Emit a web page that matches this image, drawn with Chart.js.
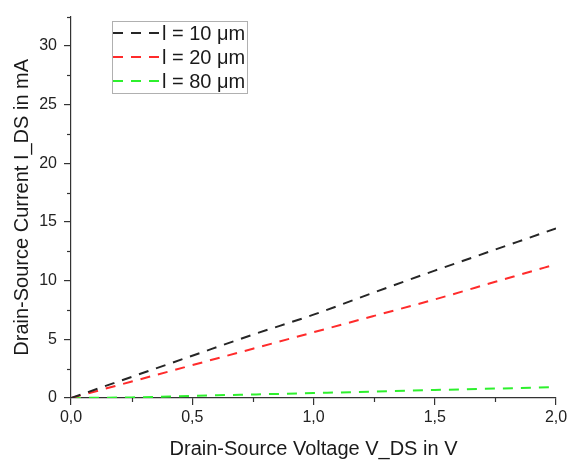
<!DOCTYPE html>
<html>
<head>
<meta charset="utf-8">
<script src="https://cdn.jsdelivr.net/npm/chart.js@4/dist/chart.umd.min.js"></script>
<style>
  html, body { margin: 0; padding: 0; background: #fff; }
  #wrap { width: 574px; height: 462px; }
</style>
</head>
<body>
<div id="wrap"><canvas id="chartIV" width="574" height="462"></canvas></div>
<script>
// === Datos ===
const vds = [0, 0.25, 0.5, 0.75, 1.0, 1.25, 1.5, 1.75, 2.0];
const idsL10 = [0, 1.8, 3.6, 5.4, 7.1, 9.0, 10.85, 12.65, 14.45];
const idsL20 = [0, 1.4, 2.8, 4.2, 5.6, 7.0, 8.4, 9.9, 11.4];
const idsL80 = [0, 0.05, 0.18, 0.3, 0.42, 0.55, 0.68, 0.8, 0.93];
const seriesLabels = ["l = 10 μm", "l = 20 μm", "l = 80 μm"];
const seriesColors = ["#262626", "#ff2b2b", "#2df02d"];

const FONT = "'Liberation Sans', Arial, sans-serif";
const toPts = (ys) => ys.map((y, i) => ({ x: vds[i], y: y }));

// ticks menores (hacia afuera) en los ejes
const minorTicks = {
  id: "minorTicks",
  afterDraw(chart) {
    const { ctx, scales: { x, y } } = chart;
    ctx.save();
    ctx.strokeStyle = "#333";
    ctx.lineWidth = 1.2;
    for (let v = 0.25; v < 2; v += 0.5) {
      const px = Math.round(x.getPixelForValue(v)) + 0.5;
      ctx.beginPath();
      ctx.moveTo(px, x.top);
      ctx.lineTo(px, x.top + 4);
      ctx.stroke();
    }
    for (let v = 2.5; v <= 32.5; v += 5) {
      const py = Math.round(y.getPixelForValue(v)) + 0.5;
      ctx.beginPath();
      ctx.moveTo(y.right, py);
      ctx.lineTo(y.right - 4, py);
      ctx.stroke();
    }
    ctx.restore();
  },
};

// leyenda dentro del área del gráfico
const insideLegend = {
  id: "insideLegend",
  afterDraw(chart) {
    const ctx = chart.ctx;
    const bx = 112, by = 21, bw = 135, bh = 72;
    ctx.save();
    ctx.strokeStyle = "#b0b0b0";
    ctx.lineWidth = 1;
    ctx.strokeRect(bx + 0.5, by + 0.5, bw, bh);
    ctx.font = "20px " + FONT;
    ctx.textBaseline = "middle";
    chart.data.datasets.forEach((ds, i) => {
      const cy = by + 12 + i * 24;
      ctx.strokeStyle = ds.borderColor;
      ctx.lineWidth = 2;
      ctx.setLineDash([10, 8]);
      ctx.beginPath();
      ctx.moveTo(bx + 1, cy);
      ctx.lineTo(bx + 47, cy);
      ctx.stroke();
      ctx.setLineDash([]);
      ctx.fillStyle = "#1a1a1a";
      ctx.fillText(ds.label, bx + 50, cy + 1);
    });
    ctx.restore();
  },
};

const ctx1 = document.getElementById("chartIV");
new Chart(ctx1, {
  type: "line",
  data: {
    datasets: [idsL10, idsL20, idsL80].map((ys, i) => ({
      label: seriesLabels[i],
      data: toPts(ys),
      borderColor: seriesColors[i],
      borderWidth: 2,
      borderDash: [10, 8],
      pointRadius: 0,
      fill: false,
      cubicInterpolationMode: "monotone",
    })),
  },
  options: {
    responsive: false,
    animation: false,
    layout: { padding: { top: 7, right: 18, left: 0, bottom: 0 } },
    plugins: { legend: { display: false }, tooltip: { enabled: false } },
    scales: {
      x: {
        type: "linear",
        min: 0,
        max: 2,
        afterFit(s) { s.height = 64; },
        border: { color: "#333", width: 1.2 },
        grid: { drawOnChartArea: false, tickLength: 7, color: "#333", lineWidth: 1.2 },
        ticks: {
          stepSize: 0.5,
          padding: 3,
          color: "#222",
          font: { family: FONT, size: 16 },
          callback: (v) => v.toFixed(1).replace(".", ","),
        },
        title: {
          display: true,
          text: "Drain-Source Voltage V_DS in V",
          color: "#1a1a1a",
          font: { family: FONT, size: 20 },
          padding: { top: 0, bottom: 1 },
        },
      },
      y: {
        min: 0,
        max: 32.5,
        afterFit(s) { s.width = 71; },
        border: { color: "#333", width: 1.2 },
        grid: { drawOnChartArea: false, tickLength: 7, color: "#333", lineWidth: 1.2 },
        ticks: {
          stepSize: 5,
          includeBounds: false,
          padding: 7,
          color: "#222",
          font: { family: FONT, size: 16 },
        },
        title: {
          display: true,
          text: "Drain-Source Current I_DS in mA",
          color: "#1a1a1a",
          font: { family: FONT, size: 20 },
          padding: { top: 10, bottom: 0 },
        },
      },
    },
  },
  plugins: [minorTicks, insideLegend],
});
</script>
</body>
</html>
